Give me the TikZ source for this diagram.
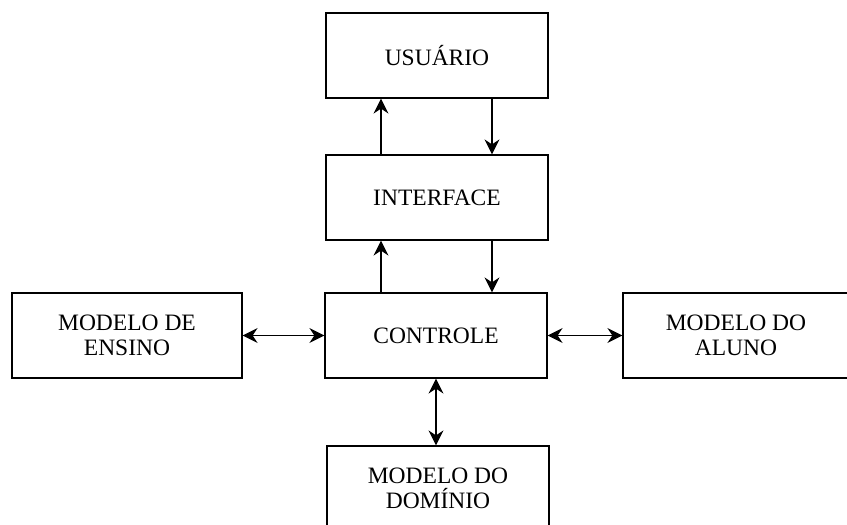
\documentclass[tikz,border=0pt]{standalone}
\usepackage{fontspec}
\setmainfont{Liberation Serif}
\usetikzlibrary{arrows.meta}
\begin{document}
\begin{tikzpicture}[x=1pt,y=-1pt,
  box/.style={draw, line width=1.2pt, minimum width=222pt, minimum height=85pt, inner sep=0pt,
    align=center, font=\fontsize{23.5}{25.5}\selectfont},
  tip/.tip={Stealth[length=15pt,width=15pt,inset=5pt]},
  arr/.style={line width=1.3pt, -tip},
  darr/.style={line width=1.3pt, tip-tip}]
\useasboundingbox (0,0) rectangle (847,525);
\clip (0,0) rectangle (847,525);
\node[box] (usr) at (437,55.5) {USUÁRIO};
\node[box] (int) at (437,197.5) {INTERFACE};
\node[box] (ctl) at (436,335.5) {CONTROLE};
\node[box, minimum width=230pt] (ens) at (127,335.5) {MODELO DE\\ENSINO};
\node[box, minimum width=226pt] (alu) at (736,335.5) {MODELO DO\\ALUNO};
\node[box] (dom) at (438,488.5) {MODELO DO\\DOMÍNIO};
\draw[arr] ([xshift=-56pt]int.north) -- ([xshift=-56pt]int.north |- usr.south);
\draw[arr] ([xshift=55pt]usr.south) -- ([xshift=55pt]usr.south |- int.north);
\draw[arr] ([xshift=-56pt]int.south |- ctl.north) -- ([xshift=-56pt]int.south);
\draw[arr] ([xshift=55pt]int.south) -- ([xshift=55pt]int.south |- ctl.north);
\draw[darr] (ens.east) -- (ctl.west);
\draw[darr] (ctl.east) -- (alu.west);
\draw[darr] (ctl.south) -- (ctl.south |- dom.north);
\end{tikzpicture}
\end{document}
